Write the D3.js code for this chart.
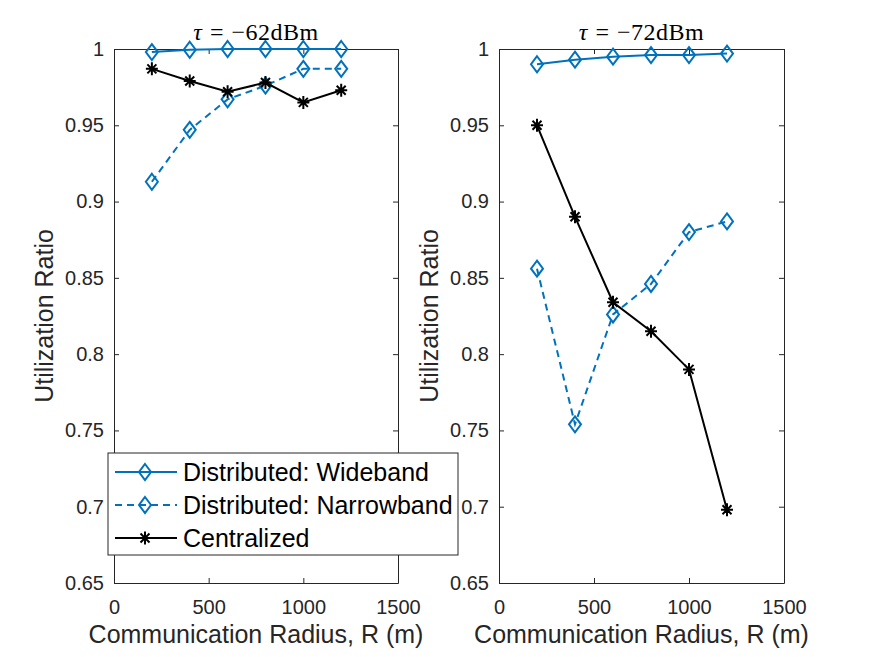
<!DOCTYPE html>
<html>
<head>
<meta charset="utf-8">
<script src="https://cdn.jsdelivr.net/npm/d3@7"></script>
<style>
  body { margin: 0; background: #fff; }
  text { font-family: "Liberation Sans", Arial, sans-serif; fill: #262626; }
</style>
</head>
<body>
<div id="canvas"></div>
<script>
const w = 875;
const h = 657;

// communication radius R (m)
const radius = [200, 400, 600, 800, 1000, 1200];

// tau = -62 dBm
const wide62 = [0.998, 0.9995, 1.0, 1.0, 1.0, 1.0];
const narrow62 = [0.913, 0.947, 0.967, 0.976, 0.987, 0.987];
const central62 = [0.987, 0.979, 0.972, 0.978, 0.965, 0.973];

// tau = -72 dBm
const wide72 = [0.990, 0.993, 0.995, 0.996, 0.996, 0.997];
const narrow72 = [0.856, 0.754, 0.826, 0.846, 0.880, 0.887];
const central72 = [0.950, 0.890, 0.834, 0.815, 0.790, 0.698];

const xTicks = [0, 500, 1000, 1500];
const xTickLabels = ["0", "500", "1000", "1500"];
const yTicks = [0.65, 0.7, 0.75, 0.8, 0.85, 0.9, 0.95, 1];
const yTickLabels = ["0.65", "0.7", "0.75", "0.8", "0.85", "0.9", "0.95", "1"];

const seriesNames = ["Distributed: Wideband", "Distributed: Narrowband", "Centralized"];
const titles = ["\u221262dBm", "\u221272dBm"];

const blue = "#0072BD";
const axisColor = "#262626";

const diamond = "M0,-8L6,0L0,8L-6,0Z";
const star = "M-6,0H6M0,-6.5V6.5M-4.5,-4.5L4.5,4.5M-4.5,4.5L4.5,-4.5";

const styles = [
  { color: blue, dash: null, marker: diamond, fill: "none" },
  { color: blue, dash: "7,5", marker: diamond, fill: "none" },
  { color: "#000", dash: null, marker: star, fill: "none" }
];

let svg = d3.select("#canvas").append("svg").attr("width", w).attr("height", h);

const panels = [
  { left: 114, right: 398, series: [wide62, narrow62, central62], title: titles[0] },
  { left: 499, right: 784, series: [wide72, narrow72, central72], title: titles[1] }
];
const plotTop = 49;
const plotBottom = 583;

function drawPanel(p, idx)
{
  let x = d3.scaleLinear().domain([0, 1500]).range([p.left, p.right]);
  let y = d3.scaleLinear().domain([0.65, 1]).range([plotBottom, plotTop]);
  let g = svg.append("g");

  g.append("g").attr("transform", "translate(0," + plotBottom + ")")
    .call(d3.axisBottom(x).tickValues(xTicks).tickSize(-5).tickSizeOuter(0).tickPadding(17)
      .tickFormat((d, i) => xTickLabels[i]));
  g.append("g").attr("transform", "translate(0," + plotTop + ")")
    .call(d3.axisTop(x).tickValues(xTicks).tickSize(-5).tickSizeOuter(0).tickFormat(""));
  g.append("g").attr("transform", "translate(" + p.left + ",0)")
    .call(d3.axisLeft(y).tickValues(yTicks).tickSize(-5).tickSizeOuter(0).tickPadding(10)
      .tickFormat((d, i) => yTickLabels[i]));
  g.append("g").attr("transform", "translate(" + p.right + ",0)")
    .call(d3.axisRight(y).tickValues(yTicks).tickSize(-5).tickSizeOuter(0).tickFormat(""));

  g.selectAll(".domain").attr("stroke", axisColor);
  g.selectAll(".tick line").attr("stroke", axisColor);
  g.selectAll(".tick text").attr("font-size", 20).attr("font-family", null).attr("fill", axisColor);

  // series
  p.series.forEach((vals, s) => {
    let st = styles[s];
    let pts = radius.map((r, i) => [x(r), y(vals[i])]);
    g.append("path").attr("d", d3.line()(pts))
      .attr("fill", "none").attr("stroke", st.color).attr("stroke-width", 2)
      .attr("stroke-dasharray", st.dash);
    g.selectAll(null).data(pts).enter().append("path")
      .attr("d", st.marker)
      .attr("transform", (d) => "translate(" + d[0] + "," + d[1] + ")")
      .attr("fill", st.fill).attr("stroke", st.color).attr("stroke-width", 2);
  });

  // title (latex-like)
  let t = g.append("text").attr("x", (p.left + p.right) / 2).attr("y", 40)
    .attr("text-anchor", "middle").attr("font-size", 24)
    .style("font-family", "'Liberation Serif', 'DejaVu Serif', serif").style("fill", "#000");
  t.append("tspan").attr("font-style", "italic").text("\u03c4");
  t.append("tspan").attr("dx", 8).text("=");
  t.append("tspan").attr("dx", 8).style("letter-spacing", "0.5px").text(p.title);

  // axis labels
  g.append("text").attr("x", (p.left + p.right) / 2).attr("y", 643)
    .attr("text-anchor", "middle").attr("font-size", 25)
    .text("Communication Radius, R (m)");
  g.append("text")
    .attr("transform", "translate(" + (p.left - 61) + "," + ((plotTop + plotBottom) / 2) + ") rotate(-90)")
    .attr("text-anchor", "middle").attr("font-size", 25)
    .text("Utilization Ratio");
}

panels.forEach(drawPanel);

// legend on the left panel
let lg = svg.append("g").attr("transform", "translate(108,453)");
lg.append("rect").attr("width", 350).attr("height", 102)
  .attr("fill", "#fff").attr("stroke", axisColor).attr("stroke-width", 1);
seriesNames.forEach((name, i) => {
  let st = styles[i];
  let yy = 19 + i * 33;
  lg.append("line").attr("x1", 7).attr("x2", 69).attr("y1", yy).attr("y2", yy)
    .attr("stroke", st.color).attr("stroke-width", 2).attr("stroke-dasharray", st.dash);
  lg.append("path").attr("d", st.marker).attr("transform", "translate(37," + yy + ")")
    .attr("fill", st.fill).attr("stroke", st.color).attr("stroke-width", 2);
  lg.append("text").attr("x", 75).attr("y", yy).attr("dy", "0.36em")
    .attr("font-size", 25).style("fill", "#000").text(name);
});
</script>
</body>
</html>
